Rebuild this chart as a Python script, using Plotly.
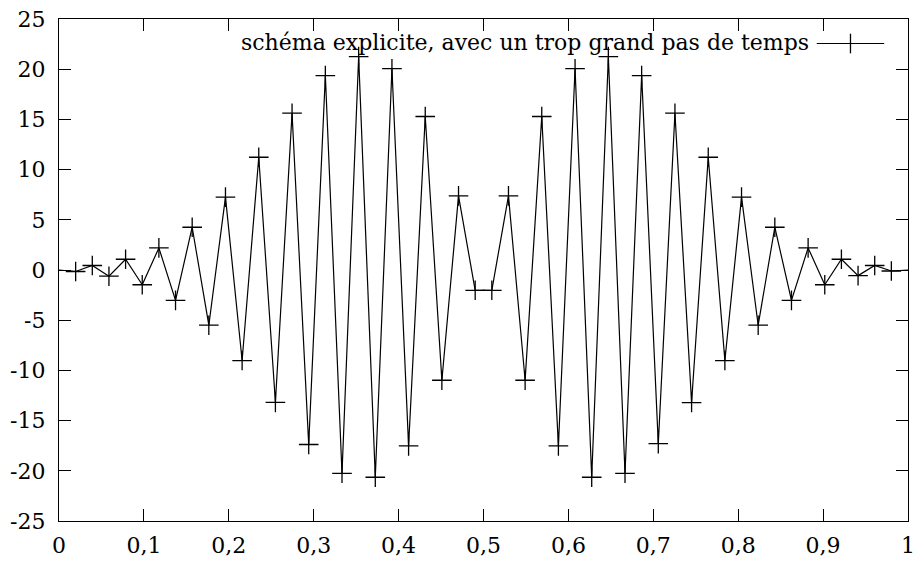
import plotly.graph_objects as go

# data: x = i/51 for the interior points, boundaries at 0 and 1
x_inner = [i / 51 for i in range(1, 51)]
y_inner = [-0.15, 0.45, -0.62, 1.07, -1.47, 2.2, -3.03, 4.26, -5.5, 7.26,
           -9.02, 11.23, -13.18, 15.62, -17.38, 19.37, -20.25, 21.25, -20.64, 20.05,
           -17.52, 15.29, -10.98, 7.38, -2.02, -2.02, 7.38, -10.98, 15.29, -17.52,
           20.05, -20.64, 21.25, -20.25, 19.37, -17.3, 15.62, -13.2, 11.23, -9.02,
           7.26, -5.5, 4.26, -3.03, 2.2, -1.47, 1.07, -0.56, 0.45, -0.1]
x_bound = [0.0, 1.0]
y_bound = [0.0, 0.0]

series_name = "schéma explicite, avec un trop grand pas de temps"

x_tickvals = [0, 0.1, 0.2, 0.3, 0.4, 0.5, 0.6, 0.7, 0.8, 0.9, 1]
x_ticktext = ["0", "0,1", "0,2", "0,3", "0,4", "0,5", "0,6", "0,7", "0,8", "0,9", "1"]
y_tickvals = [-25, -20, -15, -10, -5, 0, 5, 10, 15, 20, 25]
y_ticktext = ["-25", "-20", "-15", "-10", "-5", "0", "5", "10", "15", "20", "25"]

FONT = "DejaVu Serif, serif"
FS = 22

x_full = [x_bound[0]] + x_inner + [x_bound[1]]
y_full = [y_bound[0]] + y_inner + [y_bound[1]]

fig = go.Figure()
fig.add_trace(go.Scatter(x=x_full, y=y_full, mode="lines",
                         line=dict(color="black", width=1.2),
                         showlegend=False, hoverinfo="skip"))
fig.add_trace(go.Scatter(x=x_inner, y=y_inner, mode="markers",
                         marker=dict(symbol="cross-thin-open", size=14, color="black",
                                     line=dict(color="black", width=1.3)),
                         name=series_name, showlegend=False))

# gnuplot-style key: text on the left, sample on the right
def px(v):
    return (v - 59) / (915 - 59)
def py(v):
    return 1 - (v - 18) / (530 - 18)

fig.add_annotation(text=series_name, xref="paper", yref="paper",
                   x=px(817), y=py(42),
                   xanchor="right", yanchor="middle", showarrow=False,
                   font=dict(family=FONT, size=FS, color="black"))
lx0, lx1, lxc, ly = 823, 891, 857, 43
fig.add_shape(type="line", xref="paper", yref="paper",
              x0=px(lx0), x1=px(lx1), y0=py(ly), y1=py(ly),
              line=dict(color="black", width=1.2))
fig.add_shape(type="line", xref="paper", yref="paper",
              x0=px(lxc), x1=px(lxc), y0=py(ly - 10), y1=py(ly + 10),
              line=dict(color="black", width=1.3))

axis_common = dict(showline=True, linecolor="black", linewidth=1.2, mirror="ticks",
                   ticks="inside", ticklen=12, tickwidth=1, tickcolor="black",
                   showgrid=False, zeroline=False,
                   tickfont=dict(family=FONT, size=FS, color="black"))

fig.update_layout(
    width=922, height=565,
    margin=dict(l=59, r=7, t=18, b=35),
    paper_bgcolor="white", plot_bgcolor="white",
    showlegend=False,
    xaxis=dict(range=[0, 1], tickmode="array", tickvals=x_tickvals,
               ticktext=x_ticktext, ticklabelstandoff=4, **axis_common),
    yaxis=dict(range=[-25, 25], tickmode="array", tickvals=y_tickvals,
               ticktext=y_ticktext, ticklabelstandoff=8, **axis_common),
)

fig.write_html("out.html")
